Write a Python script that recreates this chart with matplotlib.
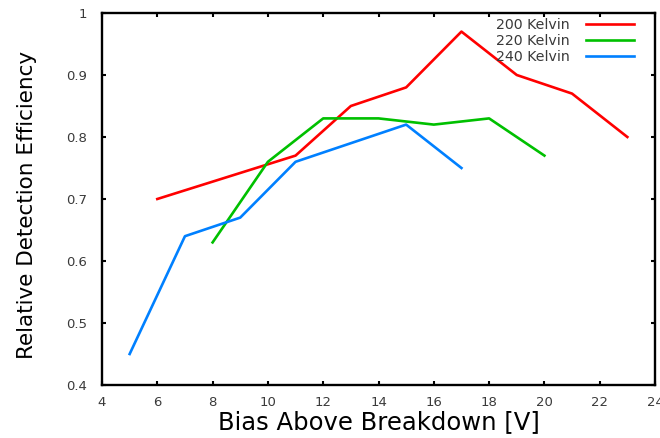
import matplotlib
matplotlib.use("Agg")
import matplotlib.pyplot as plt

# data
bias_200 = [6, 11, 13, 15, 17, 19, 21, 23]
eff_200 = [0.70, 0.77, 0.85, 0.88, 0.97, 0.90, 0.87, 0.80]

bias_220 = [8, 10, 12, 14, 16, 18, 20]
eff_220 = [0.63, 0.76, 0.83, 0.83, 0.82, 0.83, 0.77]

bias_240 = [5, 7, 9, 11, 15, 17]
eff_240 = [0.45, 0.64, 0.67, 0.76, 0.82, 0.75]

x_ticks = [4, 6, 8, 10, 12, 14, 16, 18, 20, 22, 24]
y_ticks = [0.4, 0.5, 0.6, 0.7, 0.8, 0.9, 1.0]
y_tick_labels = ["0.4", "0.5", "0.6", "0.7", "0.8", "0.9", "1"]

plt.rcParams["font.family"] = ["DejaVu Sans"]

fig = plt.figure(figsize=(6.6, 4.38), dpi=100)
ax = fig.add_axes([102 / 660, 1 - 385 / 438, 553 / 660, 372 / 438])

ax.plot(bias_200, eff_200, color="#ff0000", lw=1.9, label="200 Kelvin")
ax.plot(bias_220, eff_220, color="#00c000", lw=1.9, label="220 Kelvin")
ax.plot(bias_240, eff_240, color="#0080ff", lw=1.9, label="240 Kelvin")

ax.set_xlim(4, 24)
ax.set_ylim(0.4, 1.0)
ax.set_xticks(x_ticks)
ax.set_yticks(y_ticks)
ax.set_yticklabels(y_tick_labels)
ax.tick_params(direction="in", length=3, width=1.5, top=True, right=True,
               labelsize=9.5, labelcolor="#3a3a3a")
ax.tick_params(axis="x", pad=8)
ax.tick_params(axis="y", pad=11)
for sp in ax.spines.values():
    sp.set_linewidth(1.7)

ax.set_xlabel("Bias Above Breakdown [V]", fontsize=17.5, labelpad=1)
ax.set_ylabel("Relative Detection Efficiency", fontsize=15.5)
ax.yaxis.set_label_coords(-0.118, 0.485)

leg = ax.legend(loc="upper right", bbox_to_anchor=(0.962, 0.987),
                frameon=False, markerfirst=False, fontsize=10.2,
                handlelength=3.4, labelspacing=0.15, borderpad=0,
                borderaxespad=0, handletextpad=1.1)
for t in leg.get_texts():
    t.set_color("#3a3a3a")

fig.savefig("out.png", dpi=100)
